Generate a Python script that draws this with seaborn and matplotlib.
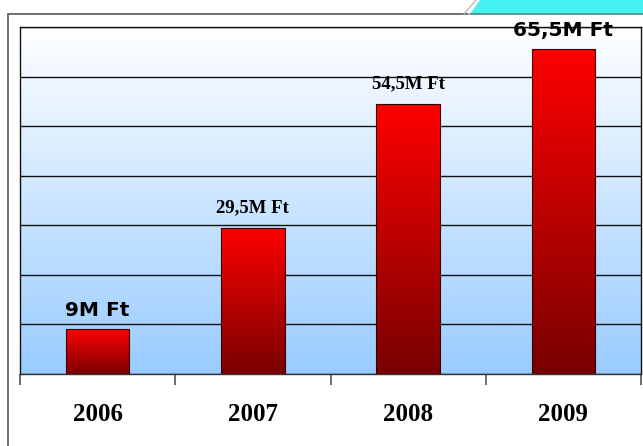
import numpy as np
import pandas as pd
import matplotlib
matplotlib.use("Agg")
import matplotlib.pyplot as plt
from matplotlib.colors import LinearSegmentedColormap
from matplotlib.lines import Line2D
from matplotlib.patches import Polygon
import seaborn as sns

years = ["2006", "2007", "2008", "2009"]
values = [9, 29.5, 54.5, 65.5]
labels = ["9M Ft", "29,5M Ft", "54,5M Ft", "65,5M Ft"]
label_styles = ["sans", "serif", "serif", "sans"]

sns.set_theme(style="white")
plt.rcParams['font.family'] = ['DejaVu Sans']
plt.rcParams['text.color'] = 'black'
plt.rcParams['xtick.color'] = 'black'
plt.rcParams['xtick.labelcolor'] = 'black'

W, H = 643, 446
fig = plt.figure(figsize=(W / 100, H / 100), dpi=100)
fig.patch.set_facecolor("white")

ax = fig.add_axes([20 / W, (H - 374) / H, 621 / W, 347 / H])

df = pd.DataFrame({"year": years, "value": values})
sns.barplot(data=df, x="year", y="value", ax=ax, color="red", width=0.41,
            edgecolor="#3a0000", linewidth=0.8, saturation=1, zorder=3)

ax.set_ylim(0, 70)
ax.set_xlim(-0.5, 3.5)

# background gradient
bg = LinearSegmentedColormap.from_list("bg", ["#99CCFF", "#FFFFFF"])
grad = np.linspace(0, 1, 256).reshape(-1, 1)
ax.imshow(grad, cmap=bg, aspect="auto", extent=[-0.5, 3.5, 0, 70],
          origin="lower", zorder=0)

# bar gradients
bc = LinearSegmentedColormap.from_list("bar", ["#780000", "#FF0000"])
for p in ax.patches:
    x0, y0 = p.get_x(), p.get_y()
    w, h = p.get_width(), p.get_height()
    im = ax.imshow(grad, cmap=bc, aspect="auto",
                   extent=[x0, x0 + w, y0, y0 + h], origin="lower", zorder=3)
    im.set_clip_path(p)
    p.set_facecolor("none")
    p.set_zorder(4)

# gridlines
ax.set_yticks(np.arange(0, 71, 10))
ax.yaxis.grid(True, color="#111111", linewidth=1.0, zorder=1)
ax.set_axisbelow(True)
ax.tick_params(axis="y", left=False, labelleft=False)

# x ticks
ax.set_xticks(range(len(years)))
ax.set_xticklabels(years, fontfamily="Liberation Serif", fontweight="bold",
                   fontsize=18, color="black")
ax.tick_params(axis="x", which="major", length=0, pad=21)
ax.set_xticks([-0.5, 0.5, 1.5, 2.5, 3.5], minor=True)
ax.tick_params(axis="x", which="minor", length=8, width=1.2,
               color="#555555", direction="out", bottom=True)
ax.set_xlabel("")
ax.set_ylabel("")

for s in ax.spines.values():
    s.set_visible(True)
    s.set_color("#111111")
    s.set_linewidth(1.0)
    s.set_zorder(5)
ax.spines["bottom"].set_color("#333333")

# value labels
for i, (v, lab, st) in enumerate(zip(values, labels, label_styles)):
    if st == "sans":
        ax.annotate(lab, (i, v), xytext=(0, 7), textcoords="offset points",
                    ha="center", va="bottom", fontsize=14.5, color="black",
                    fontweight="bold", fontfamily="DejaVu Sans", zorder=6)
    else:
        ax.annotate(lab, (i, v), xytext=(0, 8), textcoords="offset points",
                    ha="center", va="bottom", fontsize=13.5, color="black",
                    fontweight="bold", fontfamily="Liberation Serif", zorder=6)

# outer frame and top-right decoration
def fx(x):
    return x / W

def fy(y):
    return 1 - y / H

fig.add_artist(Line2D([fx(8), fx(8)], [fy(14), fy(446)], color="#666666",
                      linewidth=1.3))
fig.add_artist(Line2D([fx(8), fx(468)], [fy(14), fy(14)], color="#666666",
                      linewidth=1.3))
fig.add_artist(Polygon([[fx(470), fy(14)], [fx(480), fy(0)], [fx(643), fy(0)],
                        [fx(643), fy(14)]], closed=True, facecolor="#45F2F2",
                       edgecolor="none"))
fig.add_artist(Line2D([fx(464), fx(476)], [fy(14), fy(0)], color="#bbbbbb",
                      linewidth=1.0))
fig.add_artist(Line2D([fx(470), fx(643)], [fy(14), fy(14)], color="#4a8a8a",
                      linewidth=1.2))

fig.savefig("out.png", dpi=100)
